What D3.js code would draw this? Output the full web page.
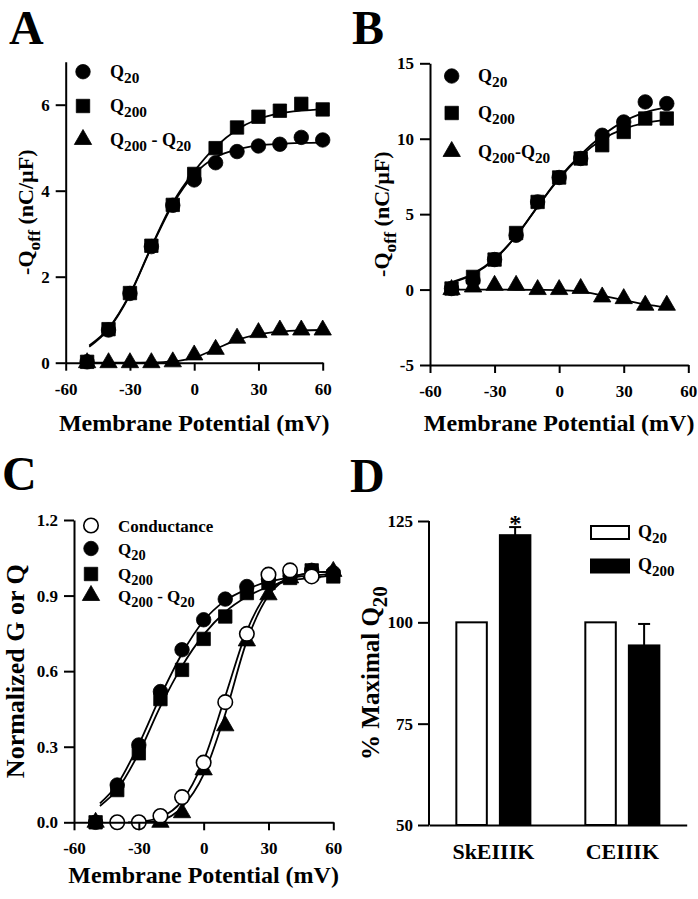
<!DOCTYPE html>
<html>
<head>
<meta charset="utf-8">
<script src="https://cdn.jsdelivr.net/npm/d3@7"></script>
<style>
body { margin: 0; background: #fff; }
svg text { font-family: "Liberation Serif", "Times New Roman", serif; font-weight: bold; fill: #000; }
</style>
</head>
<body>
<svg id="fig" width="698" height="899"></svg>
<script>
'use strict';

// ---- data ----
const voltsA = [-50, -40, -30, -20, -10, 0, 10, 20, 30, 40, 50, 60];
const aQ20 = [0.02, 0.76, 1.61, 2.70, 3.66, 4.25, 4.65, 4.91, 5.04, 5.08, 5.24, 5.18];
const aQ200 = [0.02, 0.78, 1.62, 2.72, 3.67, 4.39, 4.99, 5.47, 5.72, 5.86, 6.02, 5.89];
const aDiff = [0, 0, 0, 0, 0.02, 0.18, 0.31, 0.57, 0.70, 0.76, 0.76, 0.76];
const aFitQ20 = [[-49, 0.37], [-40, 0.78], [-30, 1.58], [-20, 2.68], [-10, 3.68], [0, 4.38], [10, 4.78], [20, 4.96], [30, 5.05], [40, 5.09], [50, 5.11], [60, 5.12]];
const aFitQ200 = [[-49, 0.40], [-40, 0.80], [-30, 1.60], [-20, 2.70], [-10, 3.72], [0, 4.45], [10, 5.02], [20, 5.42], [30, 5.67], [40, 5.80], [50, 5.86], [60, 5.89]];
const aFitDiff = [[-50, 0], [-40, 0], [-30, 0], [-20, 0.005], [-10, 0.03], [0, 0.12], [10, 0.32], [20, 0.53], [30, 0.66], [40, 0.72], [50, 0.75], [60, 0.76]];

const voltsB = [-50, -40, -30, -20, -10, 0, 10, 20, 30, 40, 50];
const bQ20 = [0.07, 0.6, 1.99, 3.6, 5.81, 7.43, 8.69, 10.23, 11.11, 12.44, 12.33];
const bQ200 = [0.07, 0.84, 1.99, 3.75, 5.81, 7.43, 8.69, 9.57, 10.45, 11.34, 11.34];
const bDiff = [0, 0.17, 0.28, 0.28, 0, 0, 0.07, -0.49, -0.6, -1.04, -1.04];
const bFitQ20 = [[-50, 0.5], [-40, 1.05], [-30, 2.05], [-20, 3.55], [-10, 5.5], [0, 7.4], [10, 8.95], [20, 10.2], [30, 11.15], [40, 11.75], [50, 12.1]];
const bFitQ200 = [[-50, 0.45], [-40, 1.0], [-30, 2.0], [-20, 3.55], [-10, 5.5], [0, 7.35], [10, 8.85], [20, 9.95], [30, 10.65], [40, 11.05], [50, 11.25]];
const bFitDiff = [[-50, 0], [-40, 0], [-30, 0], [-20, -0.01], [-10, -0.02], [0, -0.03], [10, -0.12], [20, -0.4], [30, -0.7], [40, -0.98], [50, -1.18]];

const voltsCond = [-40, -30, -20, -10, 0, 10, 20, 30, 40, 50];
const cCond = [0, 0, 0.025, 0.10, 0.237, 0.477, 0.748, 0.983, 1.0, 0.976];
const voltsC = [-50, -40, -30, -20, -10, 0, 10, 20, 30, 40, 50, 60];
const cQ20 = [0, 0.148, 0.307, 0.519, 0.685, 0.804, 0.886, 0.936, 0.965, 0.978, 1.0, 0.99];
const cQ200 = [0, 0.128, 0.274, 0.489, 0.605, 0.728, 0.817, 0.91, 0.95, 0.97, 1.0, 0.976];
const voltsCDiff = [-50, -20, -10, 0, 10, 20, 30, 40, 50, 60];
const cDiff = [0, 0, 0.038, 0.208, 0.383, 0.72, 0.903, 0.97, 0.99, 0.996];
const cFitCond = [[-35, 0], [-30, 0.002], [-20, 0.02], [-10, 0.085], [0, 0.245], [10, 0.5], [20, 0.76], [30, 0.915], [40, 0.97], [50, 0.99], [60, 0.995]];
const cFitDiff = [[-30, 0], [-20, 0.008], [-10, 0.06], [0, 0.19], [10, 0.43], [20, 0.72], [30, 0.9], [40, 0.97], [50, 0.99], [60, 0.995]];
const cFitQ20 = [[-48, 0.075], [-40, 0.15], [-30, 0.31], [-20, 0.50], [-10, 0.67], [0, 0.80], [10, 0.88], [20, 0.925], [30, 0.955], [40, 0.97], [50, 0.98], [60, 0.985]];
const cFitQ200 = [[-48, 0.065], [-40, 0.13], [-30, 0.275], [-20, 0.46], [-10, 0.62], [0, 0.745], [10, 0.835], [20, 0.895], [30, 0.935], [40, 0.96], [50, 0.97], [60, 0.98]];

const constructs = ["SkEIIIK", "CEIIIK"];
const pulses = ["Q20", "Q200"];
const pctQ20 = [100, 100];
const pctQ200 = [121.5, 94.3];
const semQ200 = [2.0, 5.3];

const xTicks = [-60, -30, 0, 30, 60];

// ---- helpers ----
const svg = d3.select("#fig");
const sym = {
    circle: d3.symbol().type(d3.symbolCircle).size(165)(),
    square: d3.symbol().type(d3.symbolSquare).size(180)(),
    triangle: d3.symbol().type(d3.symbolTriangle).size(130)()
};

function plainFmt(d) { return String(d); }

// write "Q200 - Q20" style labels with subscripts
function richText(sel, parts, size, subSize) {
    let shifted = false;
    parts.forEach(p => {
        const sub = p[1] === "sub";
        const t = sel.append("tspan").text(p[0]).attr("font-size", sub ? subSize : size);
        if (sub && !shifted) { t.attr("dy", size * 0.3); shifted = true; }
        else if (!sub && shifted) { t.attr("dy", -size * 0.3); shifted = false; }
    });
}

function styleAxis(g, fontSize) {
    g.select(".domain").attr("stroke", "#000").attr("stroke-width", 2);
    g.selectAll(".tick line").attr("stroke", "#000").attr("stroke-width", 2);
    g.selectAll(".tick text").attr("font-size", fontSize)
        .style("font-family", '"Liberation Serif", "Times New Roman", serif')
        .style("font-weight", "bold");
}

function drawPoints(g, x, y, xs, ys, shape, open) {
    g.append("g").selectAll("path")
        .data(xs.map((v, i) => [v, ys[i]]))
        .enter().append("path")
        .attr("d", sym[shape])
        .attr("transform", d => "translate(" + x(d[0]) + "," + y(d[1]) + ")")
        .attr("fill", open ? "#fff" : "#000")
        .attr("stroke", "#000")
        .attr("stroke-width", open ? 1.6 : 0.8);
}

function drawFit(g, x, y, pts) {
    const line = d3.line().curve(d3.curveMonotoneX)
        .x(d => x(d[0])).y(d => y(d[1]));
    g.append("path").attr("d", line(pts))
        .attr("fill", "none").attr("stroke", "#000").attr("stroke-width", 1.8);
}

function panelLetter(txt, x, y) {
    svg.append("text").attr("x", x).attr("y", y).attr("font-size", 48).text(txt);
}

function xyAxes(x, y, yTicks, yFmt, xLabelY, yLabelX, yLabelParts, yLabelSize) {
    const xa = svg.append("g").attr("transform", "translate(0," + y.range()[0] + ")")
        .call(d3.axisBottom(x).tickValues(xTicks).tickFormat(plainFmt).tickSize(8).tickPadding(12).tickSizeOuter(0));
    styleAxis(xa, 17);
    const ya = svg.append("g").attr("transform", "translate(" + x.range()[0] + ",0)")
        .call(d3.axisLeft(y).tickValues(yTicks).tickFormat(yFmt).tickSize(10).tickPadding(6).tickSizeOuter(0));
    styleAxis(ya, 17);
    const xm = (x.range()[0] + x.range()[1]) / 2;
    svg.append("text").attr("x", xm).attr("y", xLabelY).attr("text-anchor", "middle")
        .attr("font-size", 24).text("Membrane Potential (mV)");
    const ym = (y.range()[0] + y.range()[1]) / 2;
    const t = svg.append("text").attr("text-anchor", "middle")
        .attr("transform", "translate(" + yLabelX + "," + ym + ") rotate(-90)")
        .attr("font-size", yLabelSize);
    richText(t, yLabelParts, yLabelSize, yLabelSize * 0.8);
}

function legend(items, x0, tx, ys, size) {
    items.forEach((it, i) => {
        svg.append("path").attr("d", sym[it.shape])
            .attr("transform", "translate(" + x0 + "," + ys[i] + ")")
            .attr("fill", it.open ? "#fff" : "#000").attr("stroke", "#000")
            .attr("stroke-width", it.open ? 1.6 : 0.8);
        const t = svg.append("text").attr("x", tx).attr("y", ys[i] + 6).attr("font-size", size);
        richText(t, it.parts, size, size * 0.85);
    });
}

const qoff = [["-Q", ""], ["off", "sub"], [" (nC/\u00B5F)", ""]];
const lblQ20 = [["Q", ""], ["20", "sub"]];
const lblQ200 = [["Q", ""], ["200", "sub"]];

// ---- Panel A ----
{
    const x = d3.scaleLinear().domain([-60, 60]).range([65.7, 322.7]);
    const y = d3.scaleLinear().domain([0, 7]).range([362.7, 61.7]);
    panelLetter("A", 9, 44);
    const g = svg.append("g");
    drawFit(g, x, y, aFitQ20);
    drawFit(g, x, y, aFitQ200);
    drawFit(g, x, y, aFitDiff);
    drawPoints(g, x, y, voltsA, aDiff, "triangle");
    drawPoints(g, x, y, voltsA, aQ20, "circle");
    drawPoints(g, x, y, voltsA, aQ200, "square");
    xyAxes(x, y, [0, 2, 4, 6], plainFmt, 431, 33, qoff, 22);
    legend([
        { shape: "circle", parts: lblQ20 },
        { shape: "square", parts: lblQ200 },
        { shape: "triangle", parts: [["Q", ""], ["200", "sub"], [" - Q", ""], ["20", "sub"]] }
    ], 83, 110, [71.7, 106, 139.5], 18);
}

// ---- Panel B ----
{
    const x = d3.scaleLinear().domain([-60, 60]).range([430, 688.3]);
    const y = d3.scaleLinear().domain([-5, 15]).range([365, 63.3]);
    panelLetter("B", 352, 44);
    const g = svg.append("g");
    drawFit(g, x, y, bFitQ20);
    drawFit(g, x, y, bFitQ200);
    drawFit(g, x, y, bFitDiff);
    drawPoints(g, x, y, voltsB, bDiff, "triangle");
    drawPoints(g, x, y, voltsB, bQ20, "circle");
    drawPoints(g, x, y, voltsB, bQ200, "square");
    xyAxes(x, y, [-5, 0, 5, 10, 15], plainFmt, 431, 389, qoff, 22);
    legend([
        { shape: "circle", parts: lblQ20 },
        { shape: "square", parts: lblQ200 },
        { shape: "triangle", parts: [["Q", ""], ["200", "sub"], ["-Q", ""], ["20", "sub"]] }
    ], 451.7, 478, [76, 113, 151.5], 18);
}

// ---- Panel C ----
{
    const x = d3.scaleLinear().domain([-60, 60]).range([74, 333.3]);
    const y = d3.scaleLinear().domain([0, 1.2]).range([822.3, 520]);
    panelLetter("C", 2, 490);
    const g = svg.append("g");
    drawFit(g, x, y, cFitQ20);
    drawFit(g, x, y, cFitQ200);
    drawFit(g, x, y, cFitCond);
    drawFit(g, x, y, cFitDiff);
    drawPoints(g, x, y, voltsCDiff, cDiff, "triangle");
    drawPoints(g, x, y, voltsC, cQ20, "circle");
    drawPoints(g, x, y, voltsC, cQ200, "square");
    drawPoints(g, x, y, voltsCond, cCond, "circle", true);
    xyAxes(x, y, [0, 0.3, 0.6, 0.9, 1.2], d3.format(".1f"), 883, 24, [["Normalized G or Q", ""]], 26);
    legend([
        { shape: "circle", open: true, parts: [["Conductance", ""]] },
        { shape: "circle", parts: lblQ20 },
        { shape: "square", parts: lblQ200 },
        { shape: "triangle", parts: [["Q", ""], ["200", "sub"], [" - Q", ""], ["20", "sub"]] }
    ], 91, 118, [525.5, 548.5, 574, 595.5], 17);
}

// ---- Panel D ----
{
    const x0 = d3.scaleBand().domain(constructs).range([429, 686.7]).paddingInner(0.426).paddingOuter(0.212);
    const x1 = d3.scaleBand().domain(pulses).range([0, x0.bandwidth()]).paddingInner(0.3);
    const y = d3.scaleLinear().domain([50, 125]).range([825, 521]);
    panelLetter("D", 350, 492);

    const rows = constructs.map((c, i) => ({ c, vals: [pctQ20[i], pctQ200[i]], sem: semQ200[i] }));
    const grp = svg.append("g").selectAll("g").data(rows).enter().append("g")
        .attr("transform", d => "translate(" + x0(d.c) + ",0)");
    grp.selectAll("rect").data(d => d.vals.map((v, k) => ({ p: pulses[k], v })))
        .enter().append("rect")
        .attr("x", d => x1(d.p))
        .attr("y", d => y(d.v))
        .attr("width", x1.bandwidth())
        .attr("height", d => y(50) - y(d.v))
        .attr("fill", d => d.p === "Q20" ? "#fff" : "#000")
        .attr("stroke", "#000").attr("stroke-width", 2);
    // error bars (upper only)
    grp.each(function (d) {
        const cx = x1("Q200") + x1.bandwidth() / 2;
        const gg = d3.select(this);
        gg.append("line").attr("x1", cx).attr("x2", cx)
            .attr("y1", y(d.vals[1])).attr("y2", y(d.vals[1] + d.sem))
            .attr("stroke", "#000").attr("stroke-width", 2);
        gg.append("line").attr("x1", cx - 6).attr("x2", cx + 6)
            .attr("y1", y(d.vals[1] + d.sem)).attr("y2", y(d.vals[1] + d.sem))
            .attr("stroke", "#000").attr("stroke-width", 2);
    });
    // significance mark
    svg.append("text")
        .attr("x", x0("SkEIIIK") + x1("Q200") + x1.bandwidth() / 2)
        .attr("y", y(pctQ200[0] + semQ200[0]) + 4)
        .attr("text-anchor", "middle").attr("font-size", 24).text("*");

    const xa = svg.append("g").attr("transform", "translate(0," + y(50) + ")")
        .call(d3.axisBottom(x0).tickSize(0).tickPadding(18).tickSizeOuter(0));
    styleAxis(xa, 22);
    const ya = svg.append("g").attr("transform", "translate(" + x0.range()[0] + ",0)")
        .call(d3.axisLeft(y).tickValues([50, 75, 100, 125]).tickFormat(plainFmt).tickSize(11).tickPadding(5).tickSizeOuter(0));
    styleAxis(ya, 17);
    ya.select(".domain").remove();
    ya.append("line").attr("x1", 0).attr("x2", 0).attr("y1", y(125)).attr("y2", y(50))
        .attr("stroke", "#000").attr("stroke-width", 2);

    const t = svg.append("text").attr("text-anchor", "middle")
        .attr("transform", "translate(379," + ((y(50) + y(125)) / 2) + ") rotate(-90)")
        .attr("font-size", 25);
    richText(t, [["% Maximal Q", ""], ["20", "sub"]], 25, 21);

    // legend
    const lg = [{ p: "Q20", parts: lblQ20 }, { p: "Q200", parts: lblQ200 }];
    const ly = d3.scalePoint().domain(pulses).range([532.5, 566]);
    lg.forEach(it => {
        svg.append("rect").attr("x", 591).attr("y", ly(it.p) - 6.5).attr("width", 38).attr("height", 13)
            .attr("fill", it.p === "Q20" ? "#fff" : "#000").attr("stroke", "#000").attr("stroke-width", 2);
        const tt = svg.append("text").attr("x", 638).attr("y", ly(it.p) + 5).attr("font-size", 18);
        richText(tt, it.parts, 18, 15);
    });
}
</script>
</body>
</html>
